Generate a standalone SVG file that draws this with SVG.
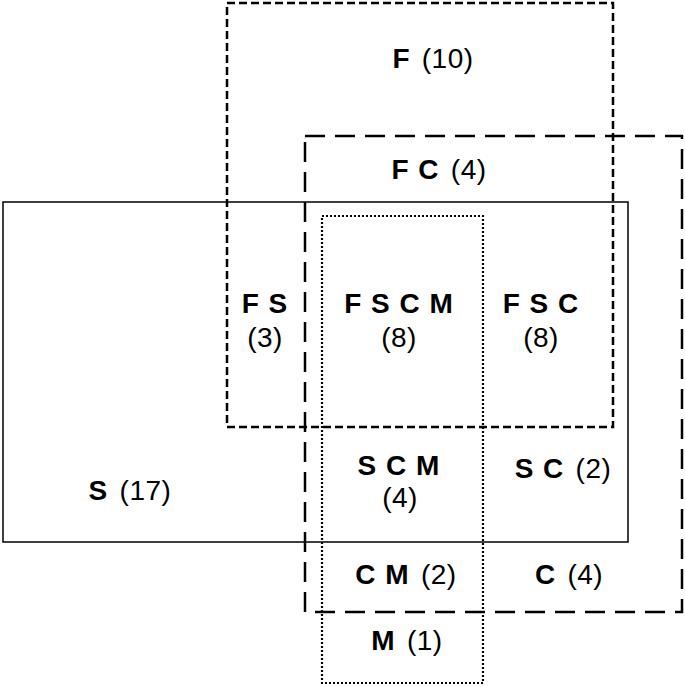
<svg xmlns="http://www.w3.org/2000/svg" width="685" height="687" viewBox="0 0 685 687">
<style>
rect{fill:none;stroke:#000}
.s{stroke-width:1.5}
.f{stroke-width:2.5;stroke-dasharray:8 4}
.c{stroke-width:2.5;stroke-dasharray:20 10}
.m{stroke-width:2.2;stroke-dasharray:2 2}
text{font-family:"Liberation Sans",Arial,sans-serif;font-size:28px;letter-spacing:0.5px;text-anchor:middle;fill:#000}
.b{font-weight:bold;letter-spacing:1px}
</style>
<rect width="685" height="687" style="fill:#fff;stroke:none"/>
<g id="connectors"></g>
<g id="set-S"><rect class="s" x="3" y="202" width="625" height="340"/></g>
<g id="set-F"><rect class="f" x="227" y="3" width="386" height="424"/></g>
<g id="set-C"><rect class="c" x="305" y="136" width="377" height="476"/></g>
<g id="set-M"><rect class="m" x="322" y="216" width="161" height="467"/></g>
<g id="labels">
<text x="433" y="68"><tspan class="b">F</tspan><tspan dx="3"> (10)</tspan></text>
<text x="439" y="179"><tspan class="b">F C</tspan><tspan dx="3"> (4)</tspan></text>
<text x="265" y="313" class="b">F S</text>
<text x="265" y="347">(3)</text>
<text x="399" y="313" class="b">F S C M</text>
<text x="399" y="347">(8)</text>
<text x="541" y="313" class="b">F S C</text>
<text x="541" y="347">(8)</text>
<text x="399" y="475" class="b">S C M</text>
<text x="400" y="507">(4)</text>
<text x="563" y="478"><tspan class="b">S C</tspan><tspan dx="3"> (2)</tspan></text>
<text x="130" y="500"><tspan class="b">S</tspan><tspan dx="3"> (17)</tspan></text>
<text x="406" y="584"><tspan class="b">C M</tspan><tspan dx="3"> (2)</tspan></text>
<text x="569" y="584"><tspan class="b">C</tspan><tspan dx="3"> (4)</tspan></text>
<text x="407" y="650"><tspan class="b">M</tspan><tspan dx="3"> (1)</tspan></text>
</g>
</svg>
